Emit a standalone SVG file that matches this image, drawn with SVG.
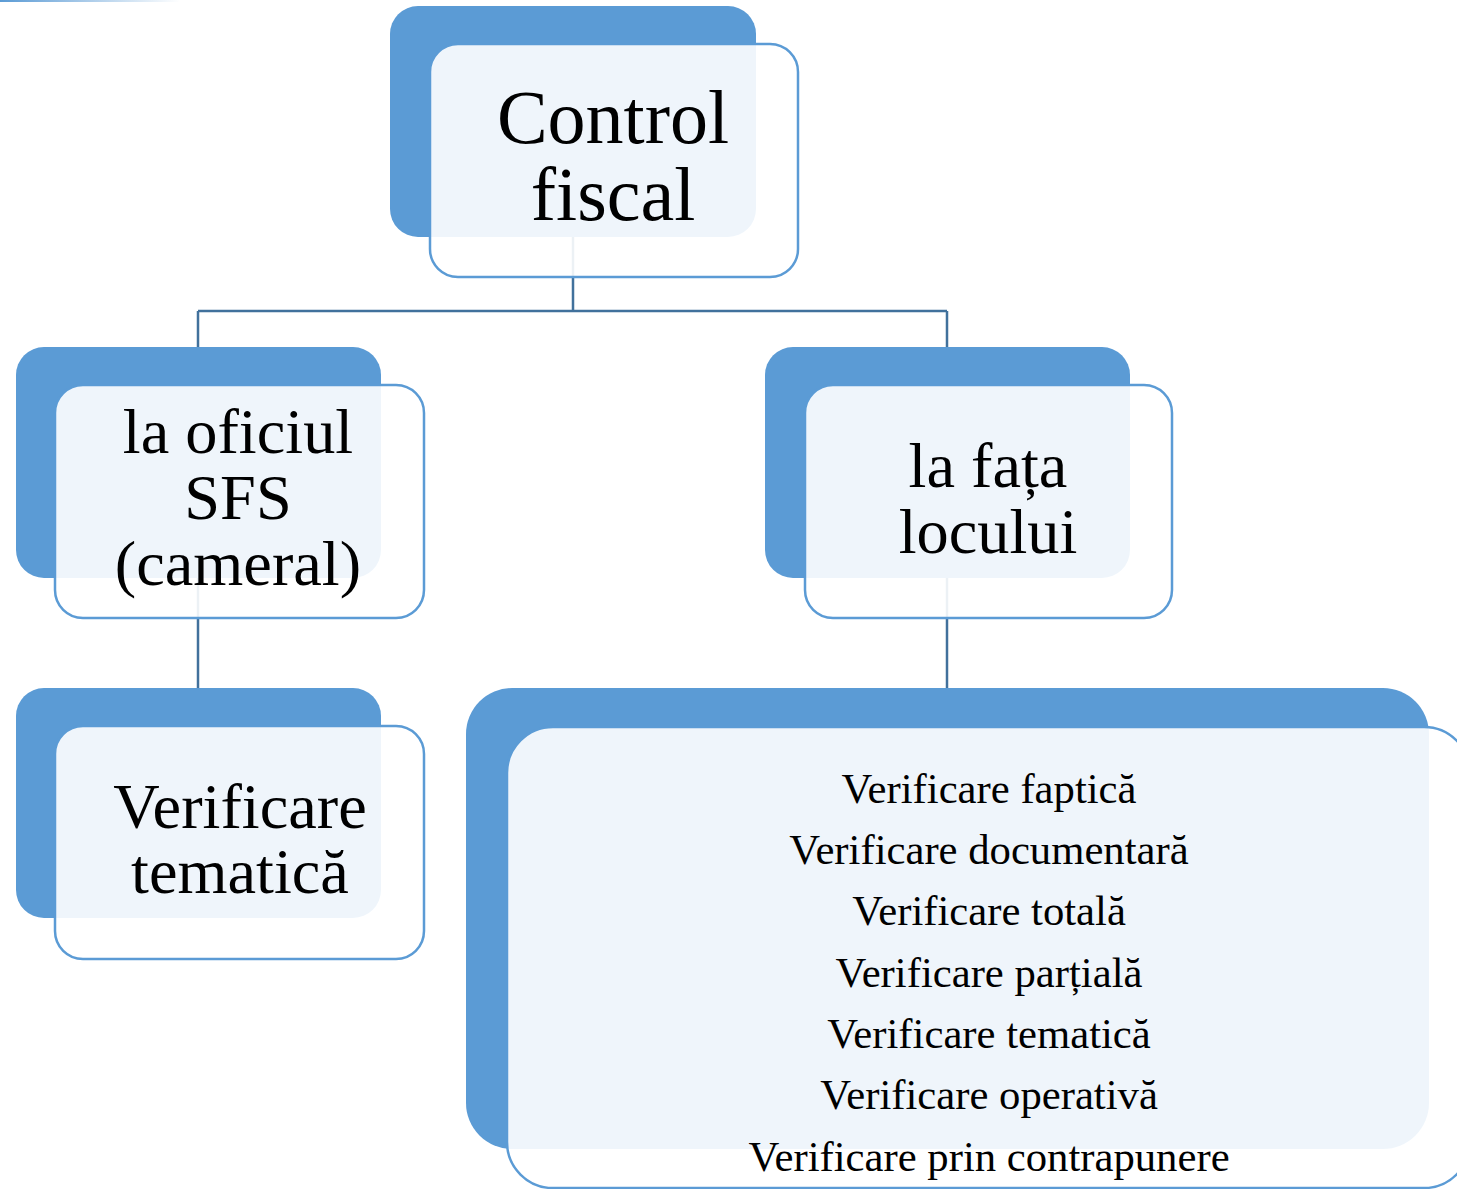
<svg xmlns="http://www.w3.org/2000/svg" width="1457" height="1189" viewBox="0 0 1457 1189">
<style>
.back{fill:#5B9BD5}
.front{fill:#FFFFFF;fill-opacity:0.9;stroke:#5B9BD5;stroke-width:2.5}
.conn{stroke:#41719C;stroke-width:2.5;fill:none}
text{font-family:"Liberation Serif","Times New Roman",serif;fill:#000;text-anchor:middle}
.big{font-size:76px}
.mid{font-size:64.3px}
.small{font-size:42.7px}
</style>
<defs>
<linearGradient id="fade" x1="0" y1="0" x2="1" y2="0">
<stop offset="0" stop-color="#5B9BD5"/>
<stop offset="1" stop-color="#5B9BD5" stop-opacity="0"/>
</linearGradient>
</defs>
<rect x="0" y="0" width="180" height="2" fill="url(#fade)"/>
<g id="back-boxes">
<rect class="back" x="390" y="6" width="366" height="231" rx="28"/>
<rect class="back" x="16" y="347" width="365" height="231" rx="28"/>
<rect class="back" x="765" y="347" width="365" height="231" rx="28"/>
<rect class="back" x="16" y="688" width="365" height="230" rx="28"/>
<rect class="back" x="466" y="688" width="963" height="461" rx="46"/>
</g>
<g id="connectors">
<path class="conn" d="M573 237 V311 M198 311 H947 M198 311 V347 M947 311 V347"/>
<path class="conn" d="M198 578 V688"/>
<path class="conn" d="M947 578 V688"/>
</g>
<g id="node-control">
<rect class="front" x="430" y="44" width="368" height="233" rx="28"/>
<text class="big" x="613" y="143">Control</text>
<text class="big" x="613" y="220">fiscal</text>
</g>
<g id="node-oficiu">
<rect class="front" x="55" y="385" width="369" height="233" rx="28"/>
<text class="mid" x="238" y="453">la oficiul</text>
<text class="mid" x="238" y="519">SFS</text>
<text class="mid" x="238" y="585">(cameral)</text>
</g>
<g id="node-fata">
<rect class="front" x="805" y="385" width="367" height="233" rx="28"/>
<text class="mid" x="988" y="487">la fața</text>
<text class="mid" x="988" y="553">locului</text>
</g>
<g id="node-tematica">
<rect class="front" x="55" y="726" width="369" height="233" rx="28"/>
<text class="mid" x="240" y="828">Verificare</text>
<text class="mid" x="240" y="893">tematică</text>
</g>
<g id="node-list">
<rect class="front" x="507" y="727" width="963" height="461" rx="46"/>
<text class="small" x="989" y="803">Verificare faptică</text>
<text class="small" x="989" y="864">Verificare documentară</text>
<text class="small" x="989" y="925">Verificare totală</text>
<text class="small" x="989" y="987">Verificare parțială</text>
<text class="small" x="989" y="1048">Verificare tematică</text>
<text class="small" x="989" y="1109">Verificare operativă</text>
<text class="small" x="989" y="1171">Verificare prin contrapunere</text>
</g>
</svg>
